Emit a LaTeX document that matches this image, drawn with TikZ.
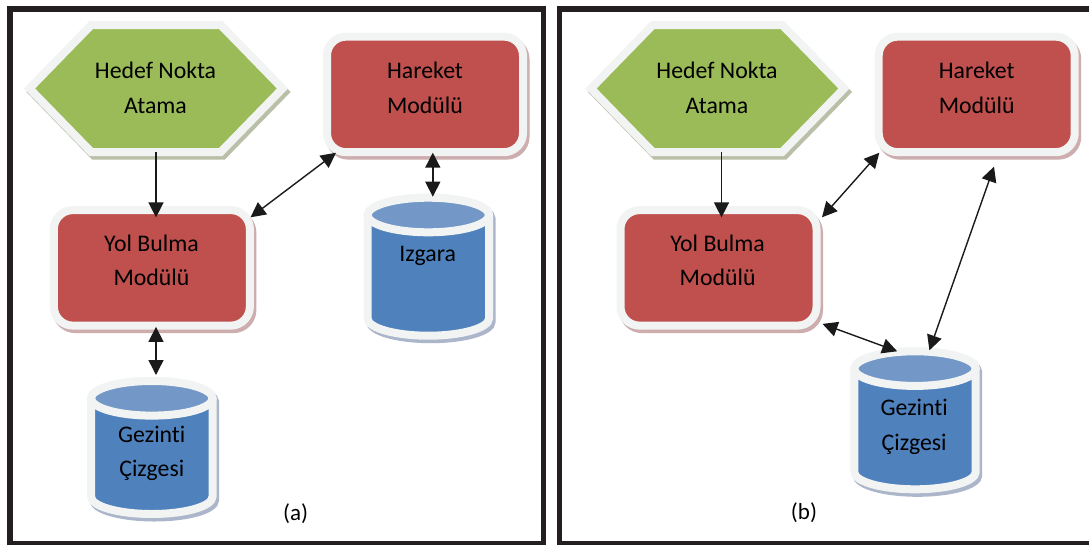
\documentclass[tikz,border=0pt]{standalone}
\usepackage{fontspec}
\setmainfont{Carlito}[Ligatures={NoCommon}]
\usetikzlibrary{arrows.meta,calc}
\definecolor{framec}{HTML}{231F20}
\definecolor{redc}{HTML}{C0504D}
\definecolor{greenc}{HTML}{9BBB59}
\definecolor{bluec}{HTML}{4F81BD}
\definecolor{ltblue}{HTML}{7397C7}
\definecolor{ringc}{HTML}{F2F4F4}
\definecolor{shred}{HTML}{CDADAE}
\definecolor{shgreen}{HTML}{BAC0A8}
\definecolor{shblue}{HTML}{ABB6CB}
\definecolor{arrc}{HTML}{1A1A1A}
\tikzset{
  frame/.style={draw=framec, line width=5.7pt},
  boxbase/.style={rectangle, rounded corners=19pt, line width=8pt, minimum width=196pt, minimum height=115.5pt, inner sep=0pt, outer sep=0pt},
  redbox/.style={boxbase, fill=redc, draw=ringc},
  redshadow/.style={boxbase, fill=shred, draw=shred},
  hexpath/.style={line width=8pt, line join=miter},
  cylpath/.style={line width=8pt},
  lbl/.style={font=\fontsize{23.8}{34.4}\selectfont, align=center, inner sep=0pt, text=black},
  caplbl/.style={font=\fontsize{23}{26}\selectfont, inner sep=0pt, text=black},
  arr/.style={draw=arrc, line width=1.4pt, -{Triangle[length=15pt,width=15pt]}},
  darr/.style={draw=arrc, line width=1.4pt, {Triangle[length=15pt,width=15pt]}-{Triangle[length=15pt,width=15pt]}},
}
% hexagon: name, cx, cy
\newcommand\myhex[3]{%
  \path[hexpath, fill=shgreen, draw=shgreen, shift={(#2+2.5,#3+3.5)}]
    (-126.5,0) -- (-64.7,-63.5) -- (64.7,-63.5) -- (126.5,0) -- (64.7,63.5) -- (-64.7,63.5) -- cycle;
  \path[hexpath, fill=greenc, draw=ringc, shift={(#2,#3)}]
    (-126.5,0) -- (-64.7,-63.5) -- (64.7,-63.5) -- (126.5,0) -- (64.7,63.5) -- (-64.7,63.5) -- cycle;
  \node[name=#1, minimum width=253pt, minimum height=127pt, inner sep=0pt, outer sep=0pt] at (#2,#3) {};
}
% red box: name, cx, cy
\newcommand\mybox[3]{%
  \node[redshadow, name=#1s] at (#2+2.5,#3+3.5) {};
  \node[redbox, name=#1] at (#2,#3) {};
}
% cylinder: name, cx, ytop, height
\newcommand\mycyl[4]{%
  \pgfmathsetmacro\cylH{#4+42.6}%
  \begin{scope}[shift={(#2,#3)}]
    \path[cylpath, fill=shblue, draw=shblue, shift={(2.5,3.5)}]
      (-60.7,0) -- (-60.7,#4) arc[start angle=180, end angle=0, x radius=60.7, y radius=17.3]
      -- (60.7,0) arc[start angle=0, end angle=-180, x radius=60.7, y radius=17.3] -- cycle;
    \path[cylpath, fill=bluec, draw=ringc]
      (-60.7,0) -- (-60.7,#4) arc[start angle=180, end angle=0, x radius=60.7, y radius=17.3]
      -- (60.7,0) arc[start angle=0, end angle=-180, x radius=60.7, y radius=17.3] -- cycle;
    \path[cylpath, fill=ltblue, draw=ringc] (0,0) ellipse[x radius=60.7, y radius=17.3];
    \node[name=#1, minimum width=129.4pt, minimum height=\cylH pt, inner sep=0pt, outer sep=0pt] at (0,#4/2) {};
  \end{scope}
}
\begin{document}
\begin{tikzpicture}[x=1pt,y=-1pt]
\useasboundingbox (0,0) rectangle (1089,544);
\fill[white] (0,0) rectangle (1089,544);
% frames
\draw[frame] (10.3,8.8) rectangle (543.5,543.5);
\draw[frame] (559.5,8.8) rectangle (1096,543.5);

% ---------- panel (a) ----------
\myhex{hexA}{156}{88.5}
\mybox{hareA}{425}{94.4}
\mybox{yolA}{151.85}{267.85}
\mycyl{izg}{428.3}{215}{103.4}
\mycyl{gezA}{151.8}{398.3}{98.4}

\node[lbl] (hexAt) at (155.5,88) {Hedef Nokta\\Atama};
\node[lbl] (hareAt) at (425,88) {Hareket\\Modülü};
\node[lbl] (yolAt) at (151.5,260.5) {Yol Bulma\\Modülü};
\node[lbl, anchor=base] (izgt) at (427.7,261.7) {Izgara};
\node[lbl] (gezAt) at (151.8,453.2) {Gezinti\\Çizgesi};
\node[caplbl] (capA) at (295.7,514) {(a)};

\draw[arr] (hexA.south) -- ($(hexA.south |- yolA.north)+(0,7.3)$);
\draw[darr] ($(yolA.north east)+(0.7,7.2)$) -- ($(hareA.south west)+(9,0.6)$);
\draw[darr] ($(hareA.south)+(7.8,0.5)$) -- ($(izg.north)+(4.5,3)$);
\draw[darr] ($(yolA.south)+(4.15,1.3)$) -- ($(gezA.north)+(4.2,-2)$);

% ---------- panel (b) ----------
\myhex{hexB}{717.5}{88.5}
\mybox{hareB}{976.7}{94.4}
\mybox{yolB}{718.5}{267.85}
\mycyl{gezB}{915}{368.6}{103.4}

\node[lbl] (hexBt) at (717,88) {Hedef Nokta\\Atama};
\node[lbl] (hareBt) at (976.7,88) {Hareket\\Modülü};
\node[lbl] (yolBt) at (717.6,260.5) {Yol Bulma\\Modülü};
\node[lbl] (gezBt) at (914.2,426.9) {Gezinti\\Çizgesi};
\node[caplbl] (capB) at (804,512.5) {(b)};

\draw[arr] ($(hexB.south)+(4,0)$) -- ($(hexB.south |- yolB.north)+(4,7.3)$);
\draw[darr] ($(yolB.north east)+(5.5,7.2)$) -- ($(hareB.south west)+(0.6,0.6)$);
\draw[darr] ($(hareB.south)+(17.3,14.5)$) -- ($(gezB.north)+(14.4,3)$);
\draw[darr] ($(yolB.south east)+(6,-1.7)$) -- ($(gezB.north)+(-17.8,4)$);
\end{tikzpicture}
\end{document}
